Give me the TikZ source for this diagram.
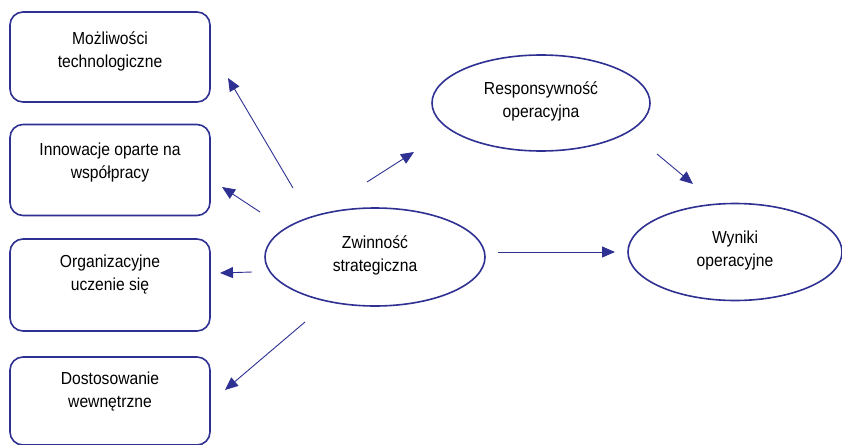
\documentclass[tikz,border=0pt]{standalone}
\usepackage{fontspec}
\setmainfont{Liberation Sans}[FakeStretch=0.9]
\usetikzlibrary{arrows.meta,shapes.geometric}
\definecolor{navy}{HTML}{2E3192}
\begin{document}
\begin{tikzpicture}[x=1pt,y=-1pt,
  box/.style={draw=navy,line width=1.6pt,rounded corners=13pt,minimum width=200pt,inner sep=0pt},
  oval/.style={draw=navy,line width=1.6pt,ellipse,inner sep=0pt},
  lbl/.style={align=center,font=\fontsize{17.4}{23}\selectfont,text=black,inner sep=0pt},
  link/.style={draw=navy,line width=0.9pt,-{Triangle[length=13pt,width=11pt]}}]
\useasboundingbox (0,0) rectangle (842,444);

% left column of factors
\node[box,minimum height=90pt] (b1) at (110,57) {};
\node[box,minimum height=91pt] (b2) at (110,170) {};
\node[box,minimum height=92pt] (b3) at (110,285) {};
\node[box,minimum height=88pt] (b4) at (110,401) {};
\node[lbl] (t1) at (110,51) {Możliwości\\technologiczne};
\node[lbl] (t2) at (110,162) {Innowacje oparte na\\współpracy};
\node[lbl] (t3) at (110,275) {Organizacyjne\\uczenie się};
\node[lbl] (t4) at (110,392) {Dostosowanie\\wewnętrzne};

% central and outcome ellipses
\node[oval,minimum width=218pt,minimum height=96pt] (resp) at (541,103) {};
\node[lbl] (tresp) at (541,101) {Responsywność\\operacyjna};
\node[oval,minimum width=220pt,minimum height=98pt] (zw) at (375,257) {};
\node[lbl] (tzw) at (375,255) {Zwinność\\strategiczna};
\node[oval,minimum width=214pt,minimum height=97pt] (wyn) at (735,252) {};
\node[lbl] (twyn) at (735,250) {Wyniki\\operacyjne};

% connector end points
\coordinate (s1) at (293,188); \coordinate (e1) at (228,78);
\coordinate (s2) at (260,212); \coordinate (e2) at (222,187);
\coordinate (s3) at (252,272); \coordinate (e3) at (220,273);
\coordinate (s4) at (305,322); \coordinate (e4) at (225,390);
\coordinate (s5) at (367,182); \coordinate (e5) at (414,152);
\coordinate (s6) at (657,154); \coordinate (e6) at (693,184);
\coordinate (s7) at (498,252); \coordinate (e7) at (615,252);

\draw[link] (s1) -- (e1);
\draw[link] (s2) -- (e2);
\draw[link] (s3) -- (e3);
\draw[link] (s4) -- (e4);
\draw[link] (s5) -- (e5);
\draw[link] (s6) -- (e6);
\draw[link] (s7) -- (e7);
\end{tikzpicture}
\end{document}
